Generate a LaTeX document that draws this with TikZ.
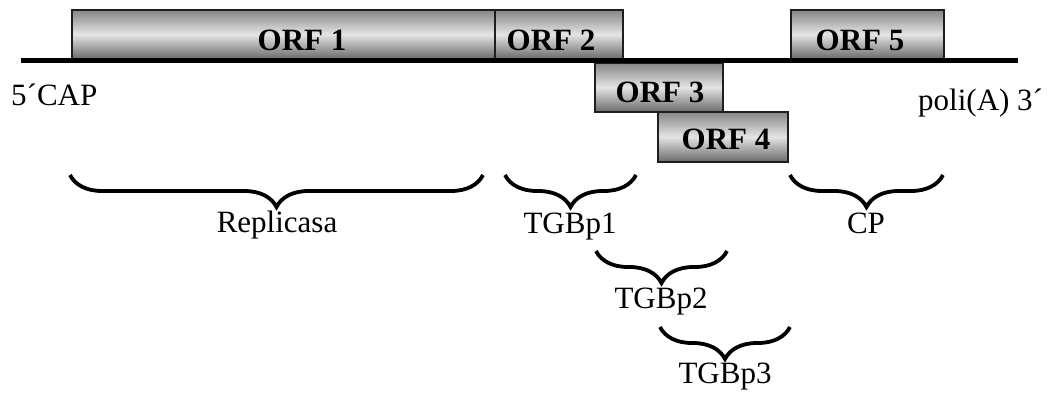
\documentclass[tikz,border=0pt]{standalone}
\usepackage{fontspec}
\setmainfont{Liberation Serif}
\usetikzlibrary{decorations.pathreplacing}
\definecolor{boxtop}{HTML}{858585}
\definecolor{boxmid}{HTML}{E4E4E4}
\definecolor{boxbot}{HTML}{6A6A6A}
\definecolor{boxline}{HTML}{1E1E1E}
\tikzset{
  orfbox/.style={draw=boxline, line width=1.6pt, inner sep=0pt, anchor=north west,
    top color=boxtop, bottom color=boxbot, middle color=boxmid},
  orflabel/.style={anchor=base, inner sep=0pt, font=\fontsize{31}{37}\selectfont\bfseries},
  txt/.style={anchor=base, inner sep=0pt, font=\fontsize{31}{37}\selectfont},
  genome/.style={line width=5pt},
  bracestyle/.style={line width=3.8pt, decorate, decoration={brace, mirror, amplitude=32pt, aspect=0.5}}
}
\begin{document}
\begin{tikzpicture}[x=1pt,y=-1pt]
\useasboundingbox (0,0) rectangle (1048,394);
% ORF boxes
\node[orfbox, minimum width=423pt, minimum height=49pt] (b1) at (71,9) {};
\node[orfbox, minimum width=128pt, minimum height=49pt] (b2) at (494,9) {};
\node[orfbox, minimum width=153pt, minimum height=49pt] (b5) at (790,9) {};
\node[orfbox, minimum width=128pt, minimum height=49pt] (b3) at (594,62) {};
\node[orfbox, minimum width=130pt, minimum height=50pt] (b4) at (657,111) {};
% genome line
\coordinate (gstart) at (21,60);
\coordinate (gend) at (1018,60);
\draw[genome] (gstart) -- (gend);
% ORF labels
\node[orflabel] (l1) at (302,50) {ORF 1};
\node[orflabel] (l2) at (551,50) {ORF 2};
\node[orflabel] (l5) at (860,50) {ORF 5};
\node[orflabel] (l3) at (660,102) {ORF 3};
\node[orflabel] (l4) at (726,149) {ORF 4};
% end labels
\node[txt, anchor=base west] (cap) at (11,105) {5´CAP};
\node[txt, anchor=base west] (poly) at (918,110) {poli(A) 3´};
% braces
\coordinate (r1) at (70,175);   \coordinate (r2) at (483,175);
\coordinate (t1a) at (505,175); \coordinate (t1b) at (636,175);
\coordinate (cpa) at (790,175); \coordinate (cpb) at (943,175);
\coordinate (t2a) at (596,251); \coordinate (t2b) at (727,251);
\coordinate (t3a) at (660,327); \coordinate (t3b) at (790,327);
\draw[bracestyle] (r1) -- (r2);
\draw[bracestyle] (t1a) -- (t1b);
\draw[bracestyle] (cpa) -- (cpb);
\draw[bracestyle] (t2a) -- (t2b);
\draw[bracestyle] (t3a) -- (t3b);
% brace labels
\node[txt] (rep) at (277,232) {Replicasa};
\node[txt] (tg1) at (570,233) {TGBp1};
\node[txt] (cp) at (866,233) {CP};
\node[txt] (tg2) at (661,308) {TGBp2};
\node[txt] (tg3) at (725,383) {TGBp3};
\end{tikzpicture}
\end{document}
